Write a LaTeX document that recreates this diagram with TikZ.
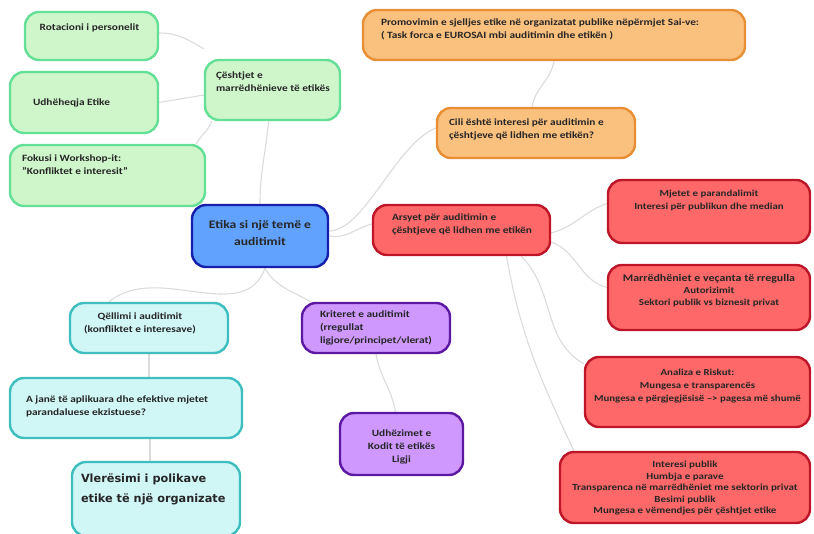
\documentclass[tikz,border=0pt]{standalone}
\usepackage{fontspec}
\setmainfont{Carlito}[FakeStretch=1.18]
\newfontfamily\bigfont{DejaVu Sans}
\usetikzlibrary{backgrounds}

\definecolor{grnfill}{RGB}{206,246,202}
\definecolor{grnline}{RGB}{100,224,150}
\definecolor{orgfill}{RGB}{250,192,126}
\definecolor{orgline}{RGB}{232,142,52}
\definecolor{blufill}{RGB}{98,162,255}
\definecolor{bluline}{RGB}{22,30,172}
\definecolor{redfill}{RGB}{255,104,104}
\definecolor{redline}{RGB}{190,22,40}
\definecolor{cyafill}{RGB}{208,246,246}
\definecolor{cyaline}{RGB}{62,190,190}
\definecolor{purfill}{RGB}{206,152,255}
\definecolor{purline}{RGB}{92,24,160}

\tikzset{
  topic/.style={line width=2.4pt, rounded corners=14pt, inner sep=0pt},
  gbox/.style={topic, draw=grnline, fill=grnfill},
  obox/.style={topic, draw=orgline, fill=orgfill},
  bbox/.style={topic, draw=bluline, fill=blufill},
  rbox/.style={topic, draw=redline, fill=redfill},
  cbox/.style={topic, draw=cyaline, fill=cyafill},
  pbox/.style={topic, draw=purline, fill=purfill},
  tx/.style={font=\fontsize{9.6}{13}\selectfont\bfseries, text=black!85, align=center, inner sep=0pt},
  link/.style={draw=gray!28, line width=1.1pt},
}

\begin{document}
\begin{tikzpicture}[x=1pt,y=-1pt]
\useasboundingbox (0,0) rectangle (814,534);

% green group
\node[gbox, minimum width=133pt, minimum height=48pt,
  label={[tx,anchor=north,xshift=-2pt,yshift=-13pt]north:Rotacioni i personelit}] (rot) at (91.5,36) {};
\node[gbox, minimum width=148pt, minimum height=61pt,
  label={[tx,anchor=west,xshift=24pt]west:Udhëheqja Etike}] (udh) at (84,102.5) {};
\node[gbox, minimum width=195pt, minimum height=61pt,
  label={[tx,align=left,anchor=north west,xshift=13pt,yshift=-11pt]north west:Fokusi i Workshop-it:\\"Konfliktet e interesit"}] (fok) at (107.5,175.5) {};
\node[gbox, minimum width=135pt, minimum height=60pt,
  label={[tx,align=left,anchor=north west,xshift=12pt,yshift=-13pt]north west:Çështjet e\\marrëdhënieve të etikës}] (ces) at (272.5,90) {};

% orange group
\node[obox, minimum width=382pt, minimum height=50pt,
  label={[tx,align=left,anchor=north west,xshift=19pt,yshift=-10pt]north west:Promovimin e sjelljes etike në organizatat publike nëpërmjet Sai-ve:\\( Task forca e EUROSAI mbi  auditimin dhe etikën )}] (pro) at (554,35) {};
\node[obox, minimum width=198pt, minimum height=50pt,
  label={[tx,align=left,anchor=north west,xshift=13pt,yshift=-12pt]north west:Cili është interesi për auditimin e\\çështjeve që lidhen me etikën?}] (cil) at (536,133) {};

% centre
\node[bbox, minimum width=136pt, minimum height=62pt,
  label={[tx,font=\fontsize{11.5}{16.5}\selectfont\bfseries,anchor=center,yshift=3pt]center:Etika si një temë e\\auditimit}] (eti) at (260,236) {};

% red group
\node[rbox, minimum width=177pt, minimum height=50pt,
  label={[tx,align=left,anchor=north west,xshift=20pt,yshift=-10pt]north west:Arsyet për auditimin e\\çështjeve që lidhen me etikën}] (ars) at (461.5,230) {};
\node[rbox, minimum width=202pt, minimum height=63pt,
  label={[tx,anchor=north,yshift=-11pt,font=\fontsize{9.2}{13}\selectfont\bfseries]north:Mjetet e parandalimit\\Interesi për publikun dhe median}] (mje) at (709,211.5) {};
\node[rbox, minimum width=202pt, minimum height=65pt,
  label={[tx,anchor=north,yshift=-10pt,font=\fontsize{9.2}{12}\selectfont\bfseries]north:{\fontsize{10.1}{12}\selectfont Marrëdhëniet e veçanta të rregulla}\\Autorizimit\\Sektori publik vs biznesit privat}] (mar) at (709,297.5) {};
\node[rbox, minimum width=225pt, minimum height=70pt,
  label={[tx,anchor=north,yshift=-13pt,font=\fontsize{9.2}{13}\selectfont\bfseries]north:Analiza e Riskut:\\Mungesa e transparencës\\Mungesa e përgjegjësisë --> pagesa më shumë}] (ana) at (697.5,392) {};
\node[rbox, minimum width=250pt, minimum height=71pt,
  label={[tx,anchor=north,yshift=-10pt,font=\fontsize{9.3}{11.5}\selectfont\bfseries]north:Interesi publik\\Humbja e parave\\Transparenca në marrëdhëniet me sektorin privat\\Besimi publik\\Mungesa e vëmendjes për çështjet etike}] (int) at (685,487.5) {};

% cyan group
\node[cbox, minimum width=158pt, minimum height=50pt,
  label={[tx,anchor=north,xshift=-9pt,yshift=-11pt]north:Qëllimi i auditimit\\(konfliktet e interesave)}] (qel) at (149,328) {};
\node[cbox, minimum width=232pt, minimum height=60pt,
  label={[tx,align=left,anchor=north west,xshift=17pt,yshift=-19pt]north west:A janë të aplikuara dhe efektive mjetet\\parandaluese ekzistuese?}] (aja) at (126,408) {};
\node[cbox, minimum width=168pt, minimum height=74pt,
  label={[tx,align=left,anchor=north west,xshift=10pt,yshift=-13pt,font=\bigfont\fontsize{11.3}{20}\selectfont\bfseries]north west:Vlerësimi i polikave\\etike të një organizate}] (vle) at (156,499) {};

% purple group
\node[pbox, minimum width=148pt, minimum height=50pt,
  label={[tx,align=left,anchor=north west,xshift=19pt,yshift=-9pt]north west:Kriteret e auditimit\\(rregullat\\ligjore/principet/vlerat)}] (kri) at (376,328) {};
\node[pbox, minimum width=123pt, minimum height=62pt,
  label={[tx,anchor=north,yshift=-18pt]north:Udhëzimet e\\Kodit të etikës\\Ligji}] (udz) at (401.5,444) {};

% links, behind the boxes
\begin{scope}[on background layer]
  \draw[link] (eti.north) to[out=90,in=-95] ([xshift=-4pt]ces.south);
  \draw[link] ([yshift=10pt]ces.north west) to[out=150,in=0] ([yshift=3pt]rot.east);
  \draw[link] ([yshift=-5pt]ces.west) to[out=190,in=10] (udh.east);
  \draw[link] ([xshift=8pt]ces.south west) to[out=-110,in=60] ([xshift=-10pt]fok.north east);
  \draw[link] ([yshift=5pt]eti.east) .. controls (365,230) and (395,145) .. ([yshift=5pt]cil.west);
  \draw[link] ([xshift=-4pt]cil.north) to[out=80,in=-100] (pro.south);
  \draw[link] (eti.east) to[out=-10,in=195] ([yshift=6pt]ars.west);
  \draw[link] ([yshift=-3pt]ars.east) to[out=15,in=200] ([yshift=8pt]mje.west);
  \draw[link] ([yshift=-12pt]ars.east) to[out=-20,in=165] ([yshift=10pt]mar.west);
  \draw[link] ([xshift=-30pt]ars.south east) to[out=-45,in=150] ([yshift=-8pt]ana.north west);
  \draw[link] ([xshift=45pt]ars.south) to[out=-80,in=115] ([xshift=15pt]int.north west);
  \draw[link] ([xshift=5pt]eti.south) to[out=-110,in=40] ([xshift=-40pt]qel.north);
  \draw[link] ([xshift=5pt]eti.south) to[out=-60,in=150] ([xshift=10pt]kri.north west);
  \draw[link] (qel.south) -- (qel.south |- aja.north);
  \draw[link] ([xshift=24pt]aja.south) -- ([xshift=24pt]aja.south |- vle.north);
  \draw[link] (kri.south) to[out=-80,in=100] ([xshift=-6pt]udz.north);
\end{scope}
\end{tikzpicture}
\end{document}
